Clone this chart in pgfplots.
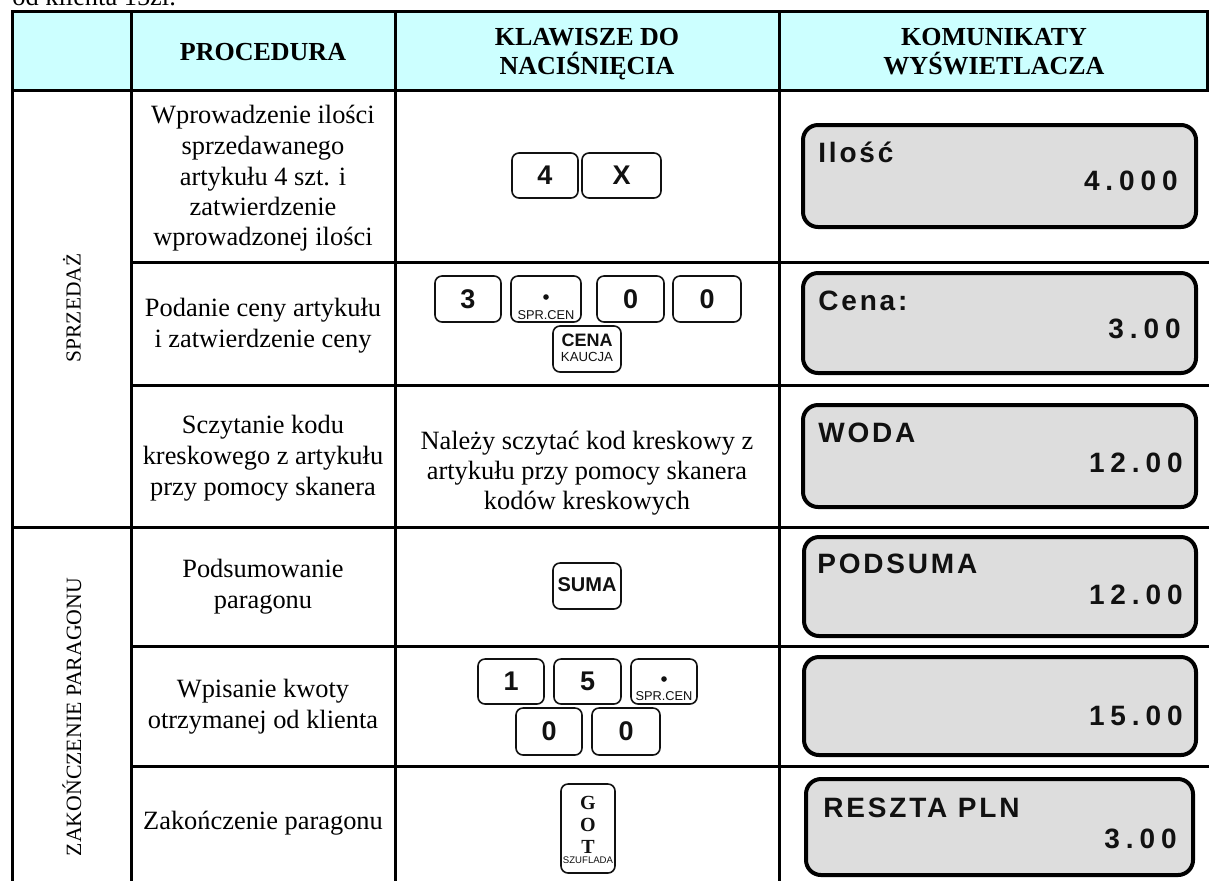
\documentclass[border=0pt]{standalone}
\usepackage{fontspec}
\setmainfont{Liberation Serif}
\newfontfamily\arial{Liberation Sans}
\newfontfamily\lcdtxt[LetterSpace=10]{Liberation Sans Bold}
\newfontfamily\lcdnum[LetterSpace=21]{Liberation Sans Bold}
\usepackage{pgfplots}
\pgfplotsset{compat=1.18}
\definecolor{hdr}{HTML}{CCFFFF}
\definecolor{lcd}{HTML}{DDDDDD}
\definecolor{ink}{HTML}{111111}

\newcommand\body{\fontsize{13.2}{15.35}\selectfont}
\newcommand\hdrf{\bfseries\fontsize{13}{15}\selectfont}
\newcommand\lcdT{\lcdtxt\fontsize{14}{14}\selectfont}
\newcommand\lcdN{\lcdnum\fontsize{14}{14}\selectfont}
\newcommand\keyf{\arial\bfseries\fontsize{13.5}{13.5}\selectfont}

\newcommand\tl[3]{\node[anchor=base,inner sep=0,font=\body] at (axis cs:#1,#2) {#3};}
\newcommand\hl[3]{\addplot[line width=1.5pt,line cap=rect,no marks] coordinates {(#2,#1) (#3,#1)};}
\newcommand\vl[3]{\addplot[line width=1.5pt,line cap=rect,no marks] coordinates {(#1,#2) (#1,#3)};}
\newcommand\keybox[4]{\draw[line width=0.8pt,rounded corners=3.5pt,fill=white,draw=ink] (axis cs:#1,#3) rectangle (axis cs:#2,#4);}
\newcommand\lcdbox[4]{\draw[line width=2pt,rounded corners=7.5pt,fill=lcd,draw=black] (axis cs:#1,#3) rectangle (axis cs:#2,#4);}

\begin{document}
\begin{tikzpicture}
\begin{axis}[name=ax, width=604.5pt, height=440pt, scale only axis,
  xmin=0, xmax=1209, ymin=0, ymax=880, y dir=reverse,
  hide axis, clip mode=global]

% header fill
\fill[hdr] (axis cs:12,11) rectangle (axis cs:1207,90);

% top text (cut off at the top edge, as in the source)
\node[anchor=base west,inner sep=0,font=\body] at (axis cs:12,5) {od klienta 15zł.};

% grid lines
\hl{11}{12}{1207}
\hl{90}{12}{1209}
\hl{262}{131}{1209}
\hl{385}{131}{1209}
\hl{527}{12}{1209}
\hl{646}{131}{1209}
\hl{766}{131}{1209}
\vl{12}{11}{880}
\vl{131}{11}{880}
\vl{395}{11}{880}
\vl{779}{11}{880}
\vl{1207}{11}{90}

% header text
\node[anchor=base,inner sep=0,font=\hdrf] at (axis cs:263,60) {PROCEDURA};
\node[anchor=base,inner sep=0,font=\hdrf] at (axis cs:587,45) {KLAWISZE DO};
\node[anchor=base,inner sep=0,font=\hdrf] at (axis cs:587,74) {NACIŚNIĘCIA};
\node[anchor=base,inner sep=0,font=\hdrf] at (axis cs:994,45) {KOMUNIKATY};
\node[anchor=base,inner sep=0,font=\hdrf] at (axis cs:994,74) {WYŚWIETLACZA};

% group labels
\node[rotate=90,inner sep=0,font=\fontsize{10.7}{12}\selectfont] at (axis cs:72,308) {SPRZEDAŻ};
\node[rotate=90,inner sep=0,font=\fontsize{10.9}{12}\selectfont] at (axis cs:72,717) {ZAKOŃCZENIE PARAGONU};

% procedure column
\tl{263}{123}{Wprowadzenie ilości}
\tl{263}{154}{sprzedawanego}
\tl{263}{185}{artykułu 4 szt. i}
\tl{263}{215}{zatwierdzenie}
\tl{263}{245}{wprowadzonej ilości}
\tl{263}{316}{Podanie ceny artykułu}
\tl{263}{347}{i zatwierdzenie ceny}
\tl{263}{433}{Sczytanie kodu}
\tl{263}{464}{kreskowego z artykułu}
\tl{263}{495}{przy pomocy skanera}
\tl{263}{577}{Podsumowanie}
\tl{263}{608}{paragonu}
\tl{263}{697}{Wpisanie kwoty}
\tl{263}{728}{otrzymanej od klienta}
\tl{263}{829}{Zakończenie paragonu}

% keys column
% row 1
\keybox{512}{578}{153}{198}
\node[font=\keyf,inner sep=0,text=ink] at (axis cs:545,175.5) {4};
\keybox{582}{661}{153}{198}
\node[font=\keyf,inner sep=0,text=ink] at (axis cs:621.5,175.5) {X};
% row 2
\keybox{435}{501}{276}{322}
\node[font=\keyf,inner sep=0,text=ink] at (axis cs:468,299) {3};
\keybox{511}{581}{276}{322}
\fill[ink] (axis cs:546,297) circle[radius=1.4pt];
\node[anchor=base,inner sep=0,font=\arial\fontsize{6.4}{6.4}\selectfont,text=ink] at (axis cs:546,319) {SPR.CEN};
\keybox{597}{664}{276}{322}
\node[font=\keyf,inner sep=0,text=ink] at (axis cs:630.5,299) {0};
\keybox{673}{741}{276}{322}
\node[font=\keyf,inner sep=0,text=ink] at (axis cs:707,299) {0};
\keybox{553}{621}{326}{372}
\node[anchor=base,inner sep=0,font=\arial\bfseries\fontsize{9}{9}\selectfont,text=ink] at (axis cs:587,346) {CENA};
\node[anchor=base,inner sep=0,font=\arial\fontsize{6.6}{6.6}\selectfont,text=ink] at (axis cs:587,361) {KAUCJA};
% row 3
\tl{587}{449}{Należy sczytać kod kreskowy z}
\tl{587}{479}{artykułu przy pomocy skanera}
\tl{587}{509}{kodów kreskowych}
% row 4
\keybox{553}{621}{563}{609}
\node[anchor=base,inner sep=0,font=\arial\bfseries\fontsize{10}{10}\selectfont,text=ink] at (axis cs:587,591) {SUMA};
% row 5
\keybox{478}{544}{659}{704}
\node[font=\keyf,inner sep=0,text=ink] at (axis cs:511,681.5) {1};
\keybox{554}{621}{659}{704}
\node[font=\keyf,inner sep=0,text=ink] at (axis cs:587.5,681.5) {5};
\keybox{631}{697}{659}{704}
\fill[ink] (axis cs:664,679) circle[radius=1.4pt];
\node[anchor=base,inner sep=0,font=\arial\fontsize{6.4}{6.4}\selectfont,text=ink] at (axis cs:664,700) {SPR.CEN};
\keybox{516}{582}{708}{755}
\node[font=\keyf,inner sep=0,text=ink] at (axis cs:549,731.5) {0};
\keybox{592}{660}{708}{755}
\node[font=\keyf,inner sep=0,text=ink] at (axis cs:626,731.5) {0};
% row 6
\keybox{561}{615}{784}{873}
\node[anchor=base,inner sep=0,font=\bfseries\fontsize{10}{10}\selectfont,text=ink] at (axis cs:588,809) {G};
\node[anchor=base,inner sep=0,font=\bfseries\fontsize{10}{10}\selectfont,text=ink] at (axis cs:588,831) {O};
\node[anchor=base,inner sep=0,font=\bfseries\fontsize{10}{10}\selectfont,text=ink] at (axis cs:588,853) {T};
\node[anchor=base,inner sep=0,font=\arial\fontsize{4.8}{4.8}\selectfont,text=ink] at (axis cs:588,863) {SZUFLADA};

% displays
\lcdbox{803}{1196}{125}{227}
\node[anchor=base west,inner sep=0,font=\lcdT,text=ink] at (axis cs:818,162) {Ilość};
\node[anchor=base east,inner sep=0,font=\lcdN,text=ink] at (axis cs:1178,190) {4.000};
\lcdbox{803}{1196}{273}{373}
\node[anchor=base west,inner sep=0,font=\lcdT,text=ink] at (axis cs:818,310) {Cena:};
\node[anchor=base east,inner sep=0,font=\lcdN,text=ink] at (axis cs:1181,338) {3.00};
\lcdbox{803}{1196}{405}{507}
\node[anchor=base west,inner sep=0,font=\lcdT,text=ink] at (axis cs:818,442) {WODA};
\node[anchor=base east,inner sep=0,font=\lcdN,text=ink] at (axis cs:1183,472) {12.00};
\lcdbox{804}{1196}{537}{636}
\node[anchor=base west,inner sep=0,font=\lcdT,text=ink] at (axis cs:817,573) {PODSUMA};
\node[anchor=base east,inner sep=0,font=\lcdN,text=ink] at (axis cs:1183,604) {12.00};
\lcdbox{804}{1196}{657}{755}
\node[anchor=base east,inner sep=0,font=\lcdN,text=ink] at (axis cs:1183,725) {15.00};
\lcdbox{806}{1193}{779}{875}
\node[anchor=base west,inner sep=0,font=\lcdT,text=ink] at (axis cs:823,817) {RESZTA PLN};
\node[anchor=base east,inner sep=0,font=\lcdN,text=ink] at (axis cs:1177,848) {3.00};

\end{axis}
\pgfresetboundingbox
\path[use as bounding box] (ax.south west) rectangle (ax.north east);
\end{tikzpicture}
\end{document}
